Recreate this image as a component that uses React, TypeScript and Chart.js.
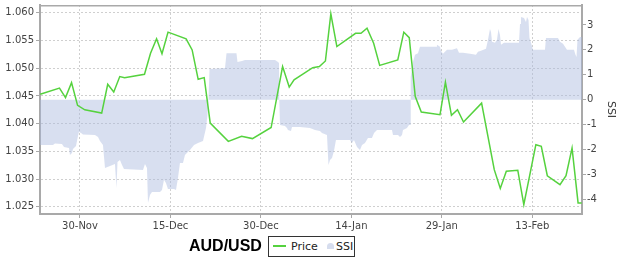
import React, { useEffect, useRef } from "react";
import { Chart, registerables } from "chart.js";

Chart.register(...registerables);

// x values are days counted from 30-Nov (2012)
const xTickDays = [0, 15, 30, 45, 60, 75];
const xTickLabels = ["30-Nov", "15-Dec", "30-Dec", "14-Jan", "29-Jan", "13-Feb"];

const priceDays = [
  -6.6, -3.4, -2.4, -1.4, -0.4, 0.8, 3.6, 4.6, 5.6, 6.6, 7.4, 10.7, 11.7, 12.7, 13.6, 14.6,
  17.6, 18.6, 19.6, 20.6, 21.6, 24.6, 26.8, 28.6, 31.7, 33.6, 34.7, 35.5, 38.6, 39.7, 40.7,
  41.6, 42.6, 45.7, 46.6, 47.6, 48.7, 49.7, 52.7, 53.7, 54.6, 55.6, 56.6, 59.7, 60.6, 61.6,
  62.6, 63.6, 66.6, 68.7, 69.7, 70.7, 72.6, 73.6, 75.6, 76.5, 77.5, 79.6, 80.6, 81.6, 82.6, 83.2,
];
const priceValues = [
  1.0453, 1.0464, 1.0447, 1.0474, 1.0433, 1.0425, 1.0419, 1.0471, 1.0457, 1.0485, 1.0483,
  1.0489, 1.0527, 1.0553, 1.0526, 1.0565, 1.0553, 1.0533, 1.048, 1.0483, 1.0401, 1.0368,
  1.0377, 1.0373, 1.0393, 1.0503, 1.0466, 1.0479, 1.0501, 1.0503, 1.0513, 1.0598, 1.0539,
  1.0563, 1.0563, 1.0572, 1.0545, 1.0505, 1.0515, 1.0565, 1.0555, 1.0449, 1.0421, 1.0416,
  1.0475, 1.0415, 1.0425, 1.0403, 1.0437, 1.0317, 1.0283, 1.0314, 1.0316, 1.0254, 1.0362,
  1.0359, 1.0306, 1.029, 1.0306, 1.0356, 1.0257, 1.0257,
];

const ssiDays = [
  -6.63, -4.48, -4.15, -2.99, -2.65, -1.82, -1.66, -1.33, -1.16, -0.66, -0.33, -0.17, 0.17, 0.5,
  2.49, 2.99, 3.32, 3.81, 4.15, 4.98, 5.8, 6.05, 6.22, 6.63, 6.97, 7.3, 10.45, 10.78, 11.11,
  11.28, 11.61, 11.94, 13.27, 13.6, 13.93, 14.26, 14.59, 15.59, 15.92, 16.25, 16.58, 17.08,
  17.41, 18.24, 18.91, 19.57, 20.4, 20.9, 21.14, 21.31, 21.48, 24.05, 24.3, 25.95, 26.12,
  26.87, 27.36, 32.34, 32.84, 33.0, 33.05, 33.17, 33.99, 34.33, 34.49, 34.99, 35.16, 36.48,
  38.14, 38.97, 39.8, 40.13, 40.96, 41.21, 41.46, 41.79, 42.12, 42.45, 44.78, 45.11, 45.44,
  45.94, 46.43, 46.77, 47.26, 47.76, 48.42, 48.76, 49.25, 51.74, 51.91, 52.74, 53.07, 53.4,
  53.57, 54.23, 54.56, 54.73, 54.81, 54.89, 55.22, 55.56, 56.05, 56.38, 59.04, 59.2, 59.7,
  59.87, 60.2, 60.86, 61.69, 62.52, 62.85, 63.52, 64.68, 65.67, 66.0, 66.5, 67.33, 67.66,
  67.99, 68.16, 68.33, 68.82, 69.15, 69.4, 69.65, 69.82, 70.32, 72.8, 72.97, 73.13, 73.63,
  73.96, 74.13, 74.38, 74.54, 74.79, 75.12, 77.11, 77.28, 78.77, 79.27, 79.6, 80.1, 80.76,
  81.92, 82.17, 82.34, 82.5, 82.92, 83.25,
];
const ssiValues = [
  -1.82, -1.82, -1.76, -1.78, -1.9, -1.94, -2.22, -2.14, -1.98, -1.86, -1.46, -1.29, -1.34, -1.4,
  -1.42, -1.5, -1.66, -1.82, -2.74, -2.66, -2.58, -3.55, -2.5, -2.42, -2.62, -2.78, -2.82, -2.58,
  -2.74, -4.15, -3.83, -3.71, -3.71, -3.63, -3.22, -3.35, -3.59, -3.59, -3.63, -3.14, -2.54,
  -2.54, -2.22, -2.02, -1.82, -1.74, -1.66, -1.14, -0.61, 0, 1.23, 1.27, 1.86, 1.86, 1.51, 1.55,
  1.59, 1.59, 1.51, 1.47, 0, -1.02, -1.06, -1.14, -1.22, -1.26, -1.1, -1.1, -1.14, -1.22, -1.26,
  -1.34, -1.42, -2.62, -2.42, -2.34, -2.06, -1.62, -1.62, -1.74, -1.62, -1.9, -2.02, -1.82,
  -1.74, -1.54, -1.54, -1.34, -1.22, -1.22, -1.42, -1.42, -1.5, -1.42, -1.22, -1.14, -1.02,
  -1.02, 0, 0.91, 1.51, 1.8, 1.86, 2.12, 2.12, 2.2, 2.12, 1.96, 1.84, 2.0, 2.0, 2.06, 1.88, 1.88,
  1.84, 1.8, 1.92, 1.96, 2.04, 2.4, 2.84, 2.72, 2.32, 2.28, 2.4, 2.84, 2.6, 2.2, 2.28, 2.28,
  3.04, 3.32, 3.28, 3.12, 3.32, 3.2, 2.48, 2.28, 2.0, 2.0, 2.48, 2.48, 2.48, 2.32, 2.24, 2.0,
  2.0, 1.8, 1.71, 2.4, 2.52, 2.52,
];

const X_MIN = -6.63;
const X_MAX = 83.25;
const PRICE_MIN = 1.0237;
const PRICE_MAX = 1.0614;
const SSI_MIN = -4.59;
const SSI_MAX = 3.8;

const PRICE_COLOR = "#55d23e";
const SSI_FILL = "rgba(170,186,222,0.46)";
const FRAME = "#a9a9a9";
const TICK_FONT = { family: "'DejaVu Sans', sans-serif", size: 10 };

const framePlugin = {
  id: "frameTop",
  afterDatasetsDraw(chart: any) {
    const { ctx, chartArea } = chart;
    ctx.save();
    ctx.strokeStyle = FRAME;
    ctx.lineWidth = 1.5;
    ctx.beginPath();
    ctx.moveTo(chartArea.left, chartArea.top + 0.75);
    ctx.lineTo(chartArea.right, chartArea.top + 0.75);
    ctx.stroke();
    ctx.restore();
  },
};

export default function App() {
  const canvasRef = useRef<HTMLCanvasElement | null>(null);

  useEffect(() => {
    const canvas = canvasRef.current;
    if (!canvas) return;
    const chart = new Chart(canvas, {
      type: "line",
      data: {
        datasets: [
          {
            label: "Price",
            data: priceDays.map((d, i) => ({ x: d, y: priceValues[i] })),
            borderColor: PRICE_COLOR,
            borderWidth: 1.5,
            pointRadius: 0,
            tension: 0,
            fill: false,
            yAxisID: "y",
          },
          {
            label: "SSI",
            data: ssiDays.map((d, i) => ({ x: d, y: ssiValues[i] })),
            borderWidth: 0,
            borderColor: "rgba(0,0,0,0)",
            backgroundColor: SSI_FILL,
            pointRadius: 0,
            tension: 0,
            fill: "origin",
            yAxisID: "y1",
          },
        ],
      },
      options: {
        animation: false,
        responsive: false,
        maintainAspectRatio: false,
        devicePixelRatio: 1,
        layout: { padding: { top: 5, left: 0, right: 0, bottom: 0 } },
        plugins: {
          legend: { display: false },
          tooltip: { enabled: false },
          title: { display: false },
        },
        scales: {
          x: {
            type: "linear",
            min: X_MIN,
            max: X_MAX,
            afterBuildTicks: (scale: any) => {
              scale.ticks = xTickDays.map((v) => ({ value: v }));
            },
            afterFit: (scale: any) => {
              scale.height = 49;
              scale.paddingLeft = 0;
              scale.paddingRight = 0;
            },
            ticks: {
              callback: (v: any) => {
                const i = xTickDays.indexOf(Number(v));
                return i >= 0 ? xTickLabels[i] : "";
              },
              font: TICK_FONT,
              color: "#444",
              padding: 2,
              maxRotation: 0,
              autoSkip: false,
            },
            grid: {
              color: "#cfcfcf",
              tickColor: FRAME,
              tickLength: 4,
              lineWidth: 1,
            },
            border: { display: true, color: FRAME, width: 2, dash: [2, 2] },
          },
          y: {
            type: "linear",
            position: "left",
            min: PRICE_MIN,
            max: PRICE_MAX,
            afterFit: (scale: any) => {
              scale.width = 40;
              scale.paddingTop = 0;
              scale.paddingBottom = 0;
            },
            ticks: {
              stepSize: 0.005,
              includeBounds: false,
              callback: (v: any) => Number(v).toFixed(3),
              font: TICK_FONT,
              color: "#444",
              padding: 2,
            },
            grid: {
              color: "#cfcfcf",
              tickColor: FRAME,
              tickLength: 4,
              lineWidth: 1,
            },
            border: { display: true, color: FRAME, width: 2, dash: [2, 2] },
          },
          y1: {
            type: "linear",
            position: "right",
            min: SSI_MIN,
            max: SSI_MAX,
            afterFit: (scale: any) => {
              scale.width = 41;
              scale.paddingTop = 0;
              scale.paddingBottom = 0;
            },
            ticks: {
              stepSize: 1,
              includeBounds: false,
              callback: (v: any) => String(Math.round(Number(v))),
              font: TICK_FONT,
              color: "#444",
              padding: 1,
            },
            grid: {
              drawOnChartArea: false,
              color: FRAME,
              tickColor: FRAME,
              tickLength: 4,
            },
            border: { display: true, color: FRAME, width: 2 },
            title: {
              display: true,
              text: "SSI",
              color: "#333",
              font: { family: "'DejaVu Sans', sans-serif", size: 11 },
              padding: { top: 6, bottom: 2 },
            },
          },
        },
      },
      plugins: [framePlugin],
    });
    return () => chart.destroy();
  }, []);

  const legendText: React.CSSProperties = {
    position: "absolute",
    fontFamily: "'DejaVu Sans', sans-serif",
    fontSize: 11,
    lineHeight: "13px",
    color: "#222",
    whiteSpace: "nowrap",
  };

  return (
    <div
      style={{
        position: "fixed",
        left: 0,
        top: 0,
        width: 623,
        height: 263,
        background: "#fff",
        overflow: "hidden",
      }}
    >
      <canvas
        ref={canvasRef}
        width={623}
        height={263}
        style={{ position: "absolute", left: 0, top: 0, width: 623, height: 263 }}
      />
      <div
        style={{
          position: "absolute",
          left: 189,
          top: 238,
          fontFamily: "'Liberation Sans', Arial, sans-serif",
          fontWeight: "bold",
          fontSize: 16,
          lineHeight: "16px",
          color: "#000",
          whiteSpace: "nowrap",
        }}
      >
        AUD/USD
      </div>
      <div
        style={{
          position: "absolute",
          left: 268,
          top: 236,
          width: 85,
          height: 19,
          border: "1px solid #333",
          background: "#fff",
        }}
      />
      <div
        style={{
          position: "absolute",
          left: 273,
          top: 245,
          width: 13,
          height: 2,
          background: PRICE_COLOR,
        }}
      />
      <div style={{ ...legendText, left: 291, top: 239.5 }}>Price</div>
      <div
        style={{
          position: "absolute",
          left: 327,
          top: 243,
          width: 7,
          height: 6,
          background: "#d6ddee",
          borderRadius: "4px 4px 0 0",
        }}
      />
      <div style={{ ...legendText, left: 336, top: 239.5 }}>SSI</div>
    </div>
  );
}
